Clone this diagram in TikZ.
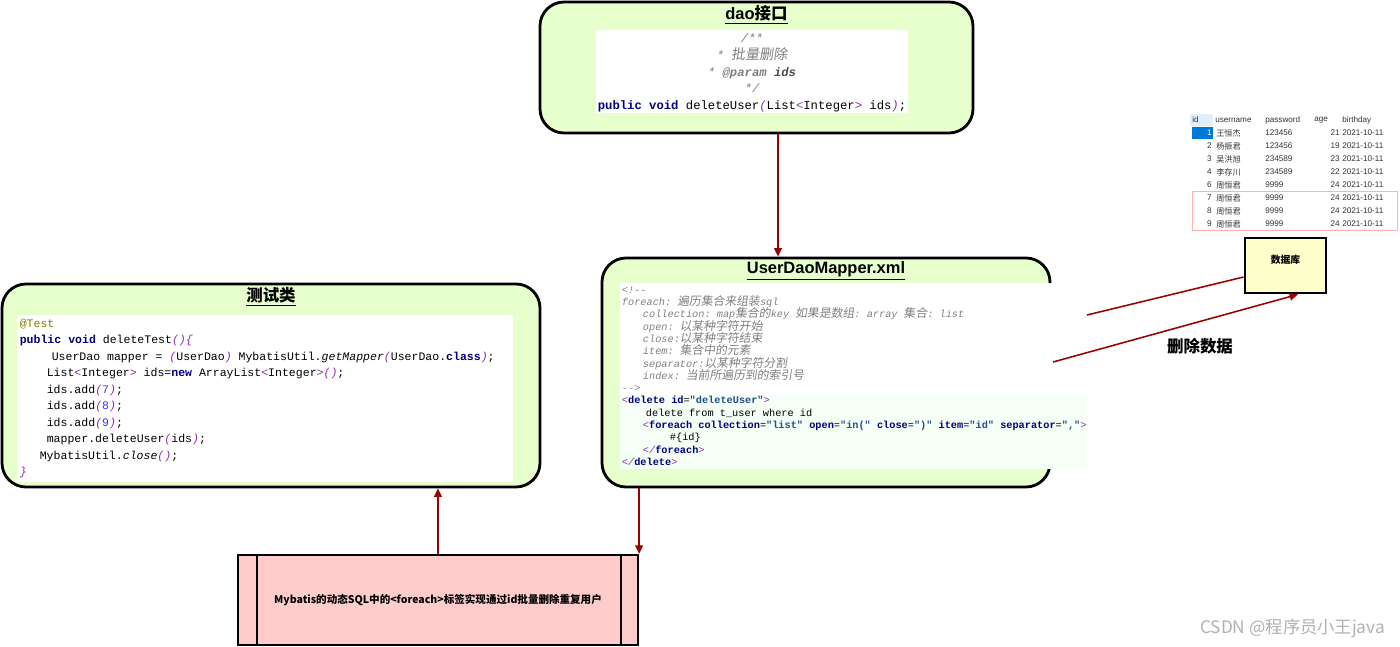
\documentclass[tikz,border=0pt]{standalone}
\usepackage{fontspec}
\usepackage{tikz}
\usetikzlibrary{arrows.meta,fit,positioning}
\setmainfont{Liberation Sans}
\setmonofont{Liberation Mono}
\newfontfamily\cjk{Noto Sans CJK SC}
\newfontfamily\cjkcode[Scale=1.15,FakeSlant=0.15]{Noto Sans CJK SC}

\definecolor{boxgreen}{HTML}{E6FFCC}
\definecolor{boxpink}{HTML}{FFCCCC}
\definecolor{boxyellow}{HTML}{FFFFCC}
\definecolor{linkred}{HTML}{990000}
\definecolor{kwblue}{HTML}{00007F}
\definecolor{parencol}{HTML}{8B2FA8}
\definecolor{numblue}{HTML}{3333FF}
\definecolor{annocol}{HTML}{808000}
\definecolor{cmtgray}{HTML}{808080}
\definecolor{valcol}{HTML}{1F4F8F}
\definecolor{rowsel}{HTML}{0078D7}

\newlength\pxu
\setlength\pxu{0.025cm}
\newcommand\codekw[1]{{\bfseries\color{kwblue}#1}}
\newcommand\codepn[1]{{\itshape\color{parencol}#1}}
\newcommand\codenum[1]{{\color{numblue}#1}}
\newcommand\codecmt[1]{{\itshape\color{cmtgray}#1}}
\newcommand\codeval[1]{{\bfseries\color{valcol}#1}}
\newcommand\codezh[1]{{\cjkcode #1}}

\begin{document}
\begin{tikzpicture}[x=0.025cm,y=-0.025cm,
    box/.style={draw=black,line width=2pt,rounded corners=0.6cm,fill=boxgreen,inner sep=0pt},
    codearea/.style={fill=white,inner sep=0pt},
    boxtitle/.style={anchor=north,font=\fontsize{11.7}{14}\selectfont\bfseries},
    link/.style={draw=linkred,line width=1.1pt,-{Triangle[length=6pt,width=5.5pt]}},
    cell/.style={font=\fontsize{5.8}{7}\selectfont,inner sep=0pt,text=black!80}]

    \fill[white] (0,0) rectangle (1400,646);
    \useasboundingbox (0,0) rectangle (1400,646);

    % ================= DAO INTERFACE =================
    \node[box, fit={(540,2) (973,133)}] (dao) {};
    \node[boxtitle] (daotitle) at (dao.north) {\underline{dao{\cjk 接口}}};
    \node[codearea, fit={(596,30) (908,113)}] (daocode) {};
    \node[align=center, inner sep=0pt, font=\ttfamily\fontsize{8.7}{12}\selectfont] (daotext) at ([yshift=-1pt]daocode) {
        \codecmt{/**}\\
        \codecmt{* \codezh{批量删除}}\\
        \codecmt{* \textbf{@param} {\bfseries\color{black!70}ids}}\\
        \codecmt{*/}\\
        \codekw{public} \codekw{void} deleteUser\codepn{(}List\codepn{<}Integer\codepn{>} ids\codepn{)};};

    % ================= TEST CLASS =================
    \node[box, fit={(2,284) (540,487)}] (test) {};
    \node[boxtitle] (testtitle) at (test.north) {\underline{{\cjk 测试类}}};
    \node[codearea, fit={(17,315) (513,482)}] (testcode) {};
    \node[anchor=west, align=left, inner sep=0pt, font=\ttfamily\fontsize{8.2}{11.76}\selectfont] (testtext) at ([xshift=2pt]testcode.west) {
        {\color{annocol}@Test}\\
        \codekw{public} \codekw{void} deleteTest\codepn{()\{}\\
        \hspace*{32\pxu}UserDao mapper = \codepn{(}UserDao\codepn{)} MybatisUtil.\textit{getMapper}\codepn{(}UserDao.\codekw{class}\codepn{)};\\
        \hspace*{27\pxu}List\codepn{<}Integer\codepn{>} ids=\codekw{new} ArrayList\codepn{<}Integer\codepn{>()};\\
        \hspace*{27\pxu}ids.add\codepn{(}\codenum{7}\codepn{)};\\
        \hspace*{27\pxu}ids.add\codepn{(}\codenum{8}\codepn{)};\\
        \hspace*{27\pxu}ids.add\codepn{(}\codenum{9}\codepn{)};\\
        \hspace*{27\pxu}mapper.deleteUser\codepn{(}ids\codepn{)};\\
        \hspace*{20\pxu}MybatisUtil.\textit{close}\codepn{()};\\
        \codepn{\}}};

    % ================= MAPPER XML =================
    \node[box, fit={(602,258) (1050,487)}] (mapper) {};
    \node[boxtitle] (maptitle) at (mapper.north) {\underline{UserDaoMapper.xml}};
    \node[codearea, fit={(620,283) (1087,469)}] (mapcode) {};
    \fill[green!4] (620,395) rectangle (1087,469);
    \node[anchor=west, align=left, inner sep=0pt, font=\ttfamily\fontsize{7.3}{8.76}\selectfont] (maptext) at ([xshift=1.4pt]mapcode.west) {
        \codecmt{<!--}\\
        \codecmt{foreach: \codezh{遍历集合来组装}sql}\\
        \hspace*{21\pxu}\codecmt{collection: map\codezh{集合的}key \codezh{如果是数组}: array \codezh{集合}: list}\\
        \hspace*{21\pxu}\codecmt{open: \codezh{以某种字符开始}}\\
        \hspace*{21\pxu}\codecmt{close:\codezh{以某种字符结束}}\\
        \hspace*{21\pxu}\codecmt{item: \codezh{集合中的元素}}\\
        \hspace*{21\pxu}\codecmt{separator:\codezh{以某种字符分割}}\\
        \hspace*{21\pxu}\codecmt{index: \codezh{当前所遍历到的索引号}}\\
        \codecmt{-->}\\
        \codepn{<}\codekw{delete} \codekw{id}=\codeval{"deleteUser"}\codepn{>}\\
        \hspace*{24\pxu}delete from t\_user where id\\
        \hspace*{21\pxu}\codepn{<}\codekw{foreach} \codekw{collection}=\codeval{"list"} \codekw{open}=\codeval{"in("} \codekw{close}=\codeval{")"} \codekw{item}=\codeval{"id"} \codekw{separator}=\codeval{","}\codepn{>}\\
        \hspace*{48\pxu}\#\{id\}\\
        \hspace*{21\pxu}\codepn{</}\codekw{foreach}\codepn{>}\\
        \codepn{</}\codekw{delete}\codepn{>}};

    % ================= BOTTOM NOTE =================
    \node[draw=black, line width=1.6pt, fill=boxpink, inner sep=0pt, fit={(238,555) (638,645)}] (sqlbox) {};
    \draw[line width=1.6pt] (sqlbox.north west) ++(20,0) -- ++(0,90);
    \draw[line width=1.6pt] (sqlbox.north east) ++(-18,0) -- ++(0,90);
    \node[font=\cjk\bfseries\fontsize{7.5}{9}\selectfont] (sqltext) at (sqlbox) {Mybatis的动态SQL中的<foreach>标签实现通过id批量删除重复用户};

    % ================= DATABASE =================
    \node[draw=black, line width=2pt, fill=boxyellow, inner sep=0pt, fit={(1245,238) (1326,293)}] (db) {};
    \node[font=\cjk\bfseries\fontsize{7}{8}\selectfont] (dbtext) at (db.north |- 0,260) {数据库};
    \node[font=\cjk\bfseries\fontsize{11.7}{14}\selectfont] (dellabel) at (1200,346) {删除数据};

    % table screenshot
    \fill[rowsel!12] (1190,114) rectangle (1213,126);
    \node[cell, anchor=west] (hid) at (1192,120) {id};
    \node[cell, anchor=west] (huser) at (1215,120) {username};
    \node[cell, anchor=west] (hpass) at (1265,120) {password};
    \node[cell, anchor=west] (hage) at (1314,120) {age};
    \node[cell, anchor=west] (hbirth) at (1342,120) {birthday};
    \fill[rowsel] (1192,127) rectangle (1213,139);
    \node[cell, anchor=east, text=white] (id1) at (1212,133) {1};
    \node[cell, anchor=west] (nm1) at (1216,133) {\cjk 王恒杰};
    \node[cell, anchor=west] (pw1) at (1265,133) {123456};
    \node[cell, anchor=east] (ag1) at (1340,133) {21};
    \node[cell, anchor=west] (bd1) at (1342,133) {2021-10-11};
    \foreach \y/\i/\nm/\pw/\ag in {146/2/杨振君/123456/19, 159/3/吴洪旭/234589/23, 172/4/李存川/234589/22,
        185/6/周恒君/9999/24, 198/7/周恒君/9999/24, 211/8/周恒君/9999/24, 224/9/周恒君/9999/24}{
        \node[cell, anchor=east] at (1212,\y) {\i};
        \node[cell, anchor=west] at (1216,\y) {\cjk \nm};
        \node[cell, anchor=west] at (1265,\y) {\pw};
        \node[cell, anchor=east] at (1340,\y) {\ag};
        \node[cell, anchor=west] at (1342,\y) {2021-10-11};
    }
    \draw[red!30, line width=0.6pt] (1192,191) rectangle (1397,230);

    % ================= CONNECTORS =================
    \draw[link] (dao.south -| 778,0) -- (mapper.north -| 778,0);
    \draw[link] (mapper.south -| sqlbox.north east) -- (sqlbox.north east);
    \draw[link] (sqlbox.north) -- (test.south -| sqlbox.north);
    \coordinate (mapout) at (1087,315);
    \coordinate (mapin) at (1053,362);
    \draw[link, -] (mapout) -- (db.west |- 0,277);
    \draw[link] (mapin) -- (db.south -| 1298,0);

    \node[font=\cjk\fontsize{12.3}{14}\selectfont, text=black!30, anchor=east] (mark) at (1390,628) {CSDN @程序员小王java};
\end{tikzpicture}
\end{document}
